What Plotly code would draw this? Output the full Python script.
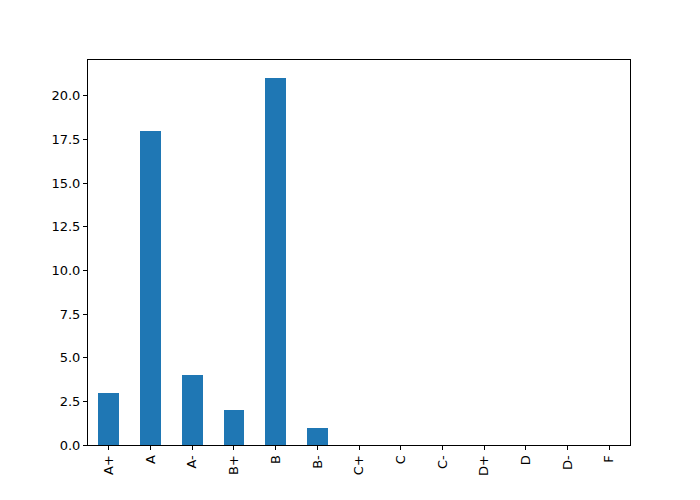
import plotly.graph_objects as go

grades = ["A+", "A", "A-", "B+", "B", "B-", "C+", "C", "C-", "D+", "D", "D-", "F"]
counts = [3, 18, 4, 2, 21, 1, 0, 0, 0, 0, 0, 0, 0]
y_ticks = [0, 2.5, 5, 7.5, 10, 12.5, 15, 17.5, 20]
y_tick_labels = ["0.0", "2.5", "5.0", "7.5", "10.0", "12.5", "15.0", "17.5", "20.0"]

positions = list(range(len(grades)))

fig = go.Figure(go.Bar(
    x=positions, y=counts, width=0.5,
    marker=dict(color="#1f77b4", line=dict(width=0)),
))

# page body adds an 8px offset; margins compensate so the axes box lands at x 88-630, y 60-445
fig.update_layout(
    width=700, height=500,
    margin=dict(l=80, r=78, t=52, b=63),
    paper_bgcolor="white", plot_bgcolor="white",
    font=dict(family="DejaVu Sans", size=13, color="black"),
    showlegend=False,
    bargap=0,
)
fig.update_xaxes(
    range=[-0.5, len(grades) - 0.5],
    tickmode="array", tickvals=positions, ticktext=grades,
    tickangle=-90,
    showline=True, linecolor="black", linewidth=1, mirror=True,
    ticks="outside", ticklen=4, tickcolor="black", tickwidth=1,
    showgrid=False, zeroline=False,
)
fig.update_yaxes(
    range=[0, max(counts) * 1.05],
    tickmode="array", tickvals=y_ticks, ticktext=y_tick_labels,
    showline=True, linecolor="black", linewidth=1, mirror=True,
    ticks="outside", ticklen=4, tickcolor="black", tickwidth=1,
    showgrid=False, zeroline=False,
)

fig.write_html("out.html")
